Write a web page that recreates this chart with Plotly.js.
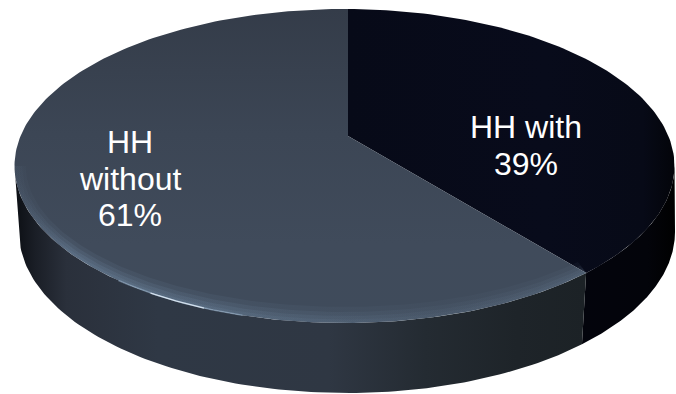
<!DOCTYPE html>
<html>
<head>
<meta charset="utf-8">
<script src="https://cdn.plot.ly/plotly-3.0.1.min.js"></script>
<style>html,body{margin:0;padding:0;background:#fff}#chart{width:676px;height:394px}</style>
</head>
<body>
<div id="chart"></div>
<script>
// Share of households, clockwise from twelve o'clock.
const categories = ['HH with', 'HH without'];
const values = [39, 61];
const labelLines = [['HH with'], ['HH', 'without']];

// Disc drawn on a pixel-scaled hidden axis pair: top rim, base rim, slice hub.
const top_ = {cx: 344.5, cy: 166, rx: 330, ry: 157};
const base = {cx: 347, cy: 232, rx: 328, ry: 161};
const hub = {x: 348, y: 136};
const wallLean = 0.023; // the slice seam leans slightly inward on its way down
const total = values.reduce((a, b) => a + b, 0);
const splitAngle = 2 * Math.PI * values[0] / total;

const onRim = (e, phi) => [e.cx + e.rx * Math.cos(phi), e.cy + e.ry * Math.sin(phi)];

// Walks from the hub along a pie angle until the ray meets the top rim.
function rimAngle(theta) {
  const dx = Math.sin(theta) * top_.rx, dy = -Math.cos(theta) * top_.ry;
  const px = (hub.x - top_.cx) / top_.rx, py = (hub.y - top_.cy) / top_.ry;
  const qx = dx / top_.rx, qy = dy / top_.ry;
  const a = qx * qx + qy * qy, b = 2 * (px * qx + py * qy), c = px * px + py * py - 1;
  const t = (-b + Math.sqrt(b * b - 4 * a * c)) / (2 * a);
  return Math.atan2((hub.y + t * dy - top_.cy) / top_.ry, (hub.x + t * dx - top_.cx) / top_.rx);
}

const phiTop = rimAngle(0);
const phiSplit = rimAngle(splitAngle);

function arc(e, from, to, n = 120) {
  const pts = [];
  for (let i = 0; i <= n; i++) pts.push(onRim(e, from + (to - from) * i / n));
  return pts;
}

function area(pts, stops, type, start, stop) {
  pts = pts.concat([pts[0]]);
  return {
    type: 'scatter', mode: 'lines', fill: 'toself', hoverinfo: 'skip',
    x: pts.map(p => p[0]), y: pts.map(p => p[1]),
    line: {width: 0, color: 'rgba(0,0,0,0)'},
    fillgradient: {type: type || 'horizontal', colorscale: stops, start: start, stop: stop}
  };
}

function stroke(from, to, color, width) {
  const pts = arc(top_, from, to, 60);
  return {
    type: 'scatter', mode: 'lines', hoverinfo: 'skip',
    x: pts.map(p => p[0]), y: pts.map(p => p[1]),
    line: {color: color, width: width}
  };
}

// Soft lip along the front edge of the larger slice.
function bevel(width, stops) {
  const outer = arc(top_, phiSplit, Math.PI);
  const inner = outer.map((_, i) => {
    const phi = phiSplit + (Math.PI - phiSplit) * i / 120;
    return [top_.cx + (top_.rx - width * 0.7) * Math.cos(phi),
            top_.cy + (top_.ry - width) * Math.sin(phi)];
  }).reverse();
  return area(outer.concat(inner), stops, 'horizontal', 14, 585);
}
const lip = a => [
  [0, `rgba(130,160,190,${a * 0.2})`], [0.1, `rgba(130,160,190,${a * 1.5})`],
  [0.35, `rgba(130,160,190,${a * 1.3})`], [0.75, `rgba(120,145,170,${a * 0.7})`],
  [1, `rgba(120,145,170,${a})`]
];

const traces = [
  // Side wall
  area(arc(top_, 0, phiSplit).concat(arc(base, phiSplit + wallLean, 0)),
    [[0, '#03040c'], [0.7, '#03040a'], [1, '#000000']], 'horizontal', 581, 676),
  area(arc(top_, phiSplit, Math.PI).concat(arc(base, Math.PI, phiSplit + wallLean)),
    [[0, '#0c0f14'], [0.035, '#1a1e26'], [0.09, '#2a303b'], [0.25, '#2f3845'], [0.55, '#2f3743'],
     [0.72, '#242b32'], [0.88, '#1e2429'], [1, '#1c2226']], 'horizontal', 15, 585),
  // Top faces
  area([[hub.x, hub.y]].concat(arc(top_, phiTop, phiSplit)),
    [[0, '#070a18'], [0.6, '#080b1b'], [0.9, '#070a17'], [1, '#030409']], 'horizontal', 348, 676),
  area([[hub.x, hub.y]].concat(arc(top_, phiSplit, phiTop + 2 * Math.PI, 240)),
    [[0, '#343c49'], [0.4, '#3c4655'], [0.75, '#404b5b'], [1, '#3f4b5b']], 'vertical', 9, 323),
  // Lip and highlight
  bevel(16, lip(0.06)), bevel(11, lip(0.08)), bevel(7, lip(0.09)), bevel(3.5, lip(0.08)),
  stroke(Math.PI * 0.6, Math.PI * 0.74, 'rgba(150,175,200,0.55)', 1.6),
  stroke(Math.PI * 0.64, Math.PI * 0.70, 'rgba(225,236,248,0.85)', 1.3)
];

// One annotation per text line, with the percentage taken from the values.
const labelAnchors = [{x: 526, y: 127, dy: 36.5}, {x: 130, y: 142, dy: 36.5}];
const annotations = [];
categories.forEach((_, i) => {
  labelLines[i].concat([values[i] + '%']).forEach((text, j) => {
    annotations.push({
      x: labelAnchors[i].x, y: labelAnchors[i].y + j * labelAnchors[i].dy,
      xref: 'x', yref: 'y', text: text, showarrow: false,
      xanchor: 'center', yanchor: 'middle',
      font: {family: '"Liberation Sans", Arial, sans-serif', size: 32, color: '#ffffff'}
    });
  });
});

const hidden = {visible: false, fixedrange: true};
Plotly.newPlot('chart', traces, {
  width: 676, height: 394, showlegend: false,
  margin: {l: 0, r: 0, t: 0, b: 0},
  paper_bgcolor: '#ffffff', plot_bgcolor: '#ffffff',
  xaxis: Object.assign({range: [0, 676]}, hidden),
  yaxis: Object.assign({range: [394, 0]}, hidden),
  annotations: annotations
}, {displayModeBar: false, staticPlot: true});
</script>
</body>
</html>
